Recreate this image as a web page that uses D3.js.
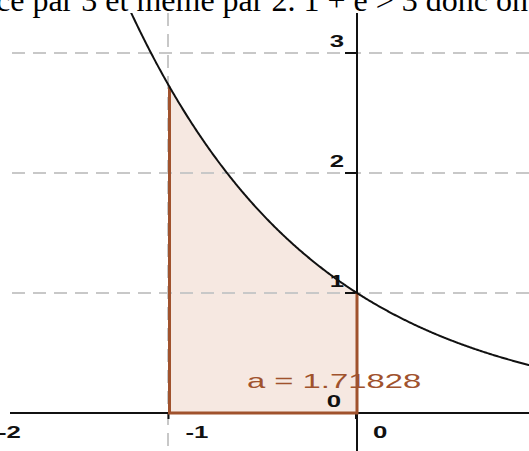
<!DOCTYPE html>
<html>
<head>
<meta charset="utf-8">
<script src="https://cdn.jsdelivr.net/npm/d3@7"></script>
<style>
  html, body { margin: 0; padding: 0; background: #fff; }
  svg { display: block; }
</style>
</head>
<body>
<svg id="chart" width="529" height="451"></svg>
<script>
// Graph of f(x) = e^(-x) with the area between -1 and 0 shaded
const xDomain = [-2, 1];
const yDomain = [0, 3.4];
const xTickValues = [-2, -1, 0];
const xTickLabels = ["-2", "-1", "0"];
const yTickValues = [1, 2, 3];
const yTickLabels = ["1", "2", "3"];
const xGridValues = [-1];
const yGridValues = [1, 2, 3];
const areaBounds = [-1, 0];
const areaValue = 1.71828;
const headerText = "ce par 3 et même par 2. 1 + e > 3 donc on";

const f = x => Math.exp(-x);

const W = 529, H = 451;
const stretch = 1.5625;   // horizontal unit / vertical unit
const svg = d3.select("#chart");

const x = d3.scaleLinear().domain([-1, 0]).range([169.5, 357]);
const y = d3.scaleLinear().domain([0, 1]).range([413, 293]);

const plotTop = 13;
svg.append("defs").append("clipPath").attr("id", "plotClip")
  .append("rect").attr("x", 0).attr("y", plotTop).attr("width", W).attr("height", H - plotTop);

const plot = svg.append("g").attr("clip-path", "url(#plotClip)");

// shaded region under the curve
const areaPts = d3.range(areaBounds[0], areaBounds[1] + 1e-9, 0.01);
const area = d3.area()
  .x(d => x(d)).y0(y(0)).y1(d => y(f(d)));
plot.append("path").datum(areaPts).attr("d", area)
  .attr("fill", "#c8764e").attr("fill-opacity", 0.17);

// dashed grid
const gridColor = "#c8c8c8";
plot.selectAll(".hgrid").data(yGridValues).join("line")
  .attr("x1", 12).attr("x2", W)
  .attr("y1", d => y(d)).attr("y2", d => y(d))
  .attr("stroke", gridColor).attr("stroke-width", 2)
  .attr("stroke-dasharray", "13,8");
plot.selectAll(".vgrid").data(xGridValues).join("line")
  .attr("x1", d => x(d) - 1.5).attr("x2", d => x(d) - 1.5)
  .attr("y1", plotTop).attr("y2", H)
  .attr("stroke", gridColor).attr("stroke-width", 2)
  .attr("stroke-dasharray", "13,8");

// axes
plot.append("line").attr("x1", 10).attr("x2", W).attr("y1", y(0)).attr("y2", y(0))
  .attr("stroke", "#111").attr("stroke-width", 2);
plot.append("line").attr("x1", x(0)).attr("x2", x(0)).attr("y1", plotTop).attr("y2", H)
  .attr("stroke", "#111").attr("stroke-width", 2);

// tick marks
plot.selectAll(".ytick").data(yTickValues).join("line")
  .attr("x1", x(0) - 12).attr("x2", x(0))
  .attr("y1", d => y(d)).attr("y2", d => y(d))
  .attr("stroke", "#111").attr("stroke-width", 2);
plot.selectAll(".xtick").data(xTickValues).join("line")
  .attr("x1", d => x(d) - 1).attr("x2", d => x(d) - 1)
  .attr("y1", y(0)).attr("y2", y(0) + 6)
  .attr("stroke", "#111").attr("stroke-width", 2);

// stretched text helper
function label(g, txt, px, py, opts) {
  return g.append("text")
    .attr("transform", `translate(${px},${py}) scale(${stretch},1)`)
    .attr("font-family", "Liberation Sans, Arial, sans-serif")
    .attr("font-size", opts.size)
    .attr("font-weight", opts.weight || "normal")
    .attr("fill", opts.color || "#111")
    .attr("text-anchor", opts.anchor || "start")
    .text(txt);
}

// tick labels
xTickValues.forEach((v, i) => {
  label(plot, xTickLabels[i], x(v) + 16, 438, {size: 16.5, weight: "bold"});
});
yTickValues.forEach((v, i) => {
  label(plot, yTickLabels[i], x(0) - 13, y(v) - 6, {size: 16.5, weight: "bold", anchor: "end"});
});
label(plot, "0", x(0) - 16, y(0) - 6, {size: 16.5, weight: "bold", anchor: "end"});

// value of the area
const brown = "#a0522d";
label(plot, "a = " + areaValue.toFixed(5), 247, 388, {size: 21, color: brown});

// outline of the region (sides and base)
plot.append("path")
  .attr("d", d3.line()([
    [x(areaBounds[0]), y(f(areaBounds[0]))],
    [x(areaBounds[0]), y(0)],
    [x(areaBounds[1]), y(0)],
    [x(areaBounds[1]), y(f(areaBounds[1]))]
  ]))
  .attr("fill", "none").attr("stroke", brown).attr("stroke-width", 3);

// the curve
const curvePts = d3.range(-1.4, 1.0, 0.005);
plot.append("path").datum(curvePts)
  .attr("d", d3.line().x(d => x(d)).y(d => y(f(d))))
  .attr("fill", "none").attr("stroke", "#111").attr("stroke-width", 2);

// line of text above the graph
svg.append("text")
  .attr("x", -4).attr("y", 11)
  .attr("font-family", "Liberation Serif, Times New Roman, serif")
  .attr("font-size", 32)
  .attr("fill", "#000")
  .attr("textLength", 532).attr("lengthAdjust", "spacingAndGlyphs")
  .text(headerText);
</script>
</body>
</html>
